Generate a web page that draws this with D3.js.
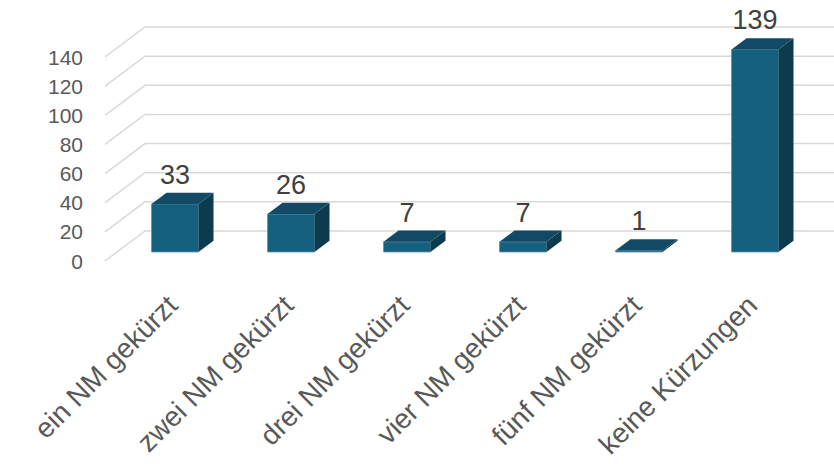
<!DOCTYPE html>
<html>
<head>
<meta charset="utf-8">
<script src="https://cdn.jsdelivr.net/npm/d3@7"></script>
<style>
  body { margin: 0; background: #fff; }
  text { font-family: "Liberation Sans", Arial, sans-serif; }
</style>
</head>
<body>
<div id="container"></div>
<script>
var categories = ["ein NM gekürzt", "zwei NM gekürzt", "drei NM gekürzt", "vier NM gekürzt", "fünf NM gekürzt", "keine Kürzungen"];
var values = [33, 26, 7, 7, 1, 139];
var yTicks = [0, 20, 40, 60, 80, 100, 120, 140];

(function(){
    var width = 834, height = 464;
    var svg = d3.select("#container").append("svg")
        .attr("width", width).attr("height", height);

    // depth offsets of the 3d box (full depth)
    var depthX = 40, depthY = -30;
    var zFront = 0.3, zBack = 0.675;

    var x = d3.scaleBand().domain(categories)
        .range([105, 801])
        .paddingInner(0.595)
        .paddingOuter(0.2975);
    var y = d3.scaleLinear().domain([0, 140]).range([261, 57]);

    function px(X, z){ return X + depthX * z; }
    function py(v, z){ return y(v) + depthY * z; }

    // gridlines: diagonal on the left wall plus back wall line
    var grid = svg.append("g");
    yTicks.forEach(function(t){
        grid.append("path")
            .attr("d", "M" + px(105, 0) + "," + py(t, 0) +
                       "L" + px(105, 1) + "," + py(t, 1) +
                       "L" + width + "," + py(t, 1))
            .attr("fill", "none")
            .attr("stroke", "#d9d9d9")
            .attr("stroke-width", 1.5);
    });

    // y tick labels
    svg.append("g").selectAll("text")
        .data(yTicks).enter().append("text")
        .attr("x", 83)
        .attr("y", function(d){ return y(d); })
        .attr("dy", "0.36em")
        .attr("text-anchor", "end")
        .attr("font-size", 21)
        .attr("fill", "#595959")
        .text(function(d){ return d; });

    // bars
    var bw = x.bandwidth();
    var bars = svg.append("g").selectAll("g")
        .data(categories).enter().append("g");

    bars.each(function(c, i){
        var g = d3.select(this);
        var v = values[i];
        var X0 = x(c), X1 = x(c) + bw;
        // front face
        g.append("path")
            .attr("d", "M" + px(X0, zFront) + "," + py(0, zFront) +
                       "L" + px(X1, zFront) + "," + py(0, zFront) +
                       "L" + px(X1, zFront) + "," + py(v, zFront) +
                       "L" + px(X0, zFront) + "," + py(v, zFront) + "Z")
            .attr("fill", "#16607f")
            .attr("stroke", "#5f93ab")
            .attr("stroke-width", 0.8);
        // side face
        g.append("path")
            .attr("d", "M" + px(X1, zFront) + "," + py(0, zFront) +
                       "L" + px(X1, zBack) + "," + py(0, zBack) +
                       "L" + px(X1, zBack) + "," + py(v, zBack) +
                       "L" + px(X1, zFront) + "," + py(v, zFront) + "Z")
            .attr("fill", "#0d3b4e");
        // top face
        g.append("path")
            .attr("d", "M" + px(X0, zFront) + "," + py(v, zFront) +
                       "L" + px(X1, zFront) + "," + py(v, zFront) +
                       "L" + px(X1, zBack) + "," + py(v, zBack) +
                       "L" + px(X0, zBack) + "," + py(v, zBack) + "Z")
            .attr("fill", "#124a66");
        // data label
        g.append("text")
            .attr("x", px(X0 + bw / 2, zFront))
            .attr("y", py(v, zBack) - 9)
            .attr("text-anchor", "middle")
            .attr("font-size", 27)
            .attr("fill", "#404040")
            .text(v);
        // category label
        var lx = px(X0 + bw / 2, zFront) - 3, ly = 300;
        g.append("text")
            .attr("transform", "translate(" + lx + "," + ly + ") rotate(-45)")
            .attr("dy", "0.36em")
            .attr("text-anchor", "end")
            .attr("font-size", 28)
            .attr("fill", "#595959")
            .text(c);
    });
})();
</script>
</body>
</html>
